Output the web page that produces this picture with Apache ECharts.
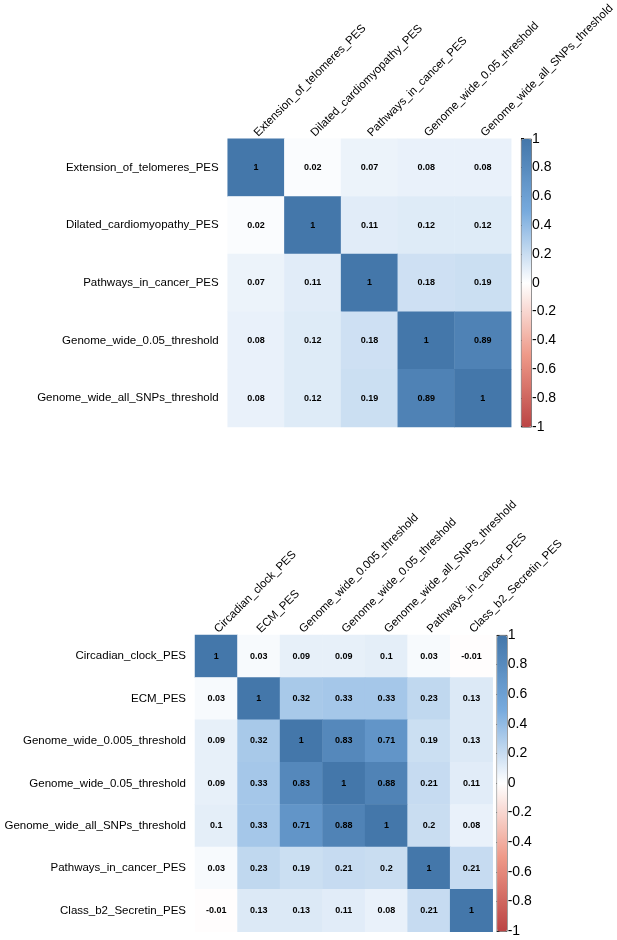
<!DOCTYPE html>
<html>
<head>
<meta charset="utf-8">
<script src="https://cdn.jsdelivr.net/npm/echarts@6/dist/echarts.min.js"></script>
<style>
html,body{margin:0;padding:0;background:#fff;}
#main{width:617px;height:940px;}
</style>
</head>
<body>
<div id="main"></div>
<script>
// ---- data ----
var topLabels = ['Extension_of_telomeres_PES', 'Dilated_cardiomyopathy_PES', 'Pathways_in_cancer_PES', 'Genome_wide_0.05_threshold', 'Genome_wide_all_SNPs_threshold'];
var topMatrix = [
  [1, 0.02, 0.07, 0.08, 0.08],
  [0.02, 1, 0.11, 0.12, 0.12],
  [0.07, 0.11, 1, 0.18, 0.19],
  [0.08, 0.12, 0.18, 1, 0.89],
  [0.08, 0.12, 0.19, 0.89, 1]
];
var bottomLabels = ['Circadian_clock_PES', 'ECM_PES', 'Genome_wide_0.005_threshold', 'Genome_wide_0.05_threshold', 'Genome_wide_all_SNPs_threshold', 'Pathways_in_cancer_PES', 'Class_b2_Secretin_PES'];
var bottomMatrix = [
  [1, 0.03, 0.09, 0.09, 0.1, 0.03, -0.01],
  [0.03, 1, 0.32, 0.33, 0.33, 0.23, 0.13],
  [0.09, 0.32, 1, 0.83, 0.71, 0.19, 0.13],
  [0.09, 0.33, 0.83, 1, 0.88, 0.21, 0.11],
  [0.1, 0.33, 0.71, 0.88, 1, 0.2, 0.08],
  [0.03, 0.23, 0.19, 0.21, 0.2, 1, 0.21],
  [-0.01, 0.13, 0.13, 0.11, 0.08, 0.21, 1]
];
var colorbarTicks = ['-1', '-0.8', '-0.6', '-0.4', '-0.2', '0', '0.2', '0.4', '0.6', '0.8', '1'];
var paletteColors = ['#BB4444', '#EE9988', '#FFFFFF', '#77AADD', '#4477AA'];

// ---- build ----
function toCells(m) {
  var out = [];
  for (var r = 0; r < m.length; r++) {
    for (var c = 0; c < m[r].length; c++) {
      out.push([c, r, m[r][c]]);
    }
  }
  return out;
}
var FONT = '"Liberation Sans", Arial, Helvetica, sans-serif';

var G = {
  top: {left: 227.7, top: 138, width: 289.3, height: 289},
  bot: {left: 195, top: 635, width: 297.7, height: 296.7},
  cb1: {left: 521, top: 138.7, width: 10, height: 288},
  cb2: {left: 496.7, top: 635, width: 10, height: 296}
};

function catX(labels, gi) {
  return {
    type: 'category', gridIndex: gi, data: labels, position: 'top',
    axisLine: {show: false}, axisTick: {show: false}, splitLine: {show: false},
    axisLabel: {rotate: -45, margin: 4, fontSize: 11.5, color: '#000', fontFamily: FONT, interval: 0}
  };
}
function catY(labels, gi) {
  return {
    type: 'category', gridIndex: gi, data: labels, inverse: true,
    axisLine: {show: false}, axisTick: {show: false}, splitLine: {show: false},
    axisLabel: {margin: 9, fontSize: 11.5, color: '#000', fontFamily: FONT, interval: 0}
  };
}
function cbY(gi) {
  return {
    type: 'value', gridIndex: gi, min: -1, max: 1, interval: 0.2, position: 'right',
    axisLine: {show: false}, splitLine: {show: false},
    axisTick: {show: true, length: 3, lineStyle: {color: '#000', width: 1}},
    axisLabel: {margin: 1, fontSize: 14, color: '#000', fontFamily: FONT,
      formatter: function (v) { return colorbarTicks[Math.round((v + 1) / 0.2)]; }}
  };
}
function cbX(gi) {
  return {type: 'value', gridIndex: gi, show: false, min: 0, max: 1};
}
function cellSeries(m, xi, yi) {
  return {
    type: 'heatmap', xAxisIndex: xi, yAxisIndex: yi, data: toCells(m),
    itemStyle: {borderWidth: 0},
    label: {show: true, fontSize: 9, fontWeight: 'bold', color: '#000', fontFamily: FONT,
      formatter: function (p) { return String(p.value[2]); }},
    emphasis: {disabled: true}, silent: true
  };
}
function vm(si, g) {
  return {
    type: 'continuous', seriesIndex: si, min: -1, max: 1, calculable: false,
    left: g.left, top: g.top, itemWidth: g.width, itemHeight: g.height,
    padding: 0, text: null, hoverLink: false,
    borderColor: '#333', borderWidth: 0.8,
    inRange: {color: paletteColors}
  };
}

var chart = echarts.init(document.getElementById('main'), null, {renderer: 'canvas'});
chart.setOption({
  backgroundColor: '#fff',
  animation: false,
  grid: [
    Object.assign({containLabel: false}, G.top),
    Object.assign({containLabel: false}, G.bot),
    Object.assign({containLabel: false}, G.cb1),
    Object.assign({containLabel: false}, G.cb2)
  ],
  xAxis: [catX(topLabels, 0), catX(bottomLabels, 1), cbX(2), cbX(3)],
  yAxis: [catY(topLabels, 0), catY(bottomLabels, 1), cbY(2), cbY(3)],
  visualMap: [vm(0, G.cb1), vm(1, G.cb2)],
  series: [cellSeries(topMatrix, 0, 0), cellSeries(bottomMatrix, 1, 1)]
});
</script>
</body>
</html>
